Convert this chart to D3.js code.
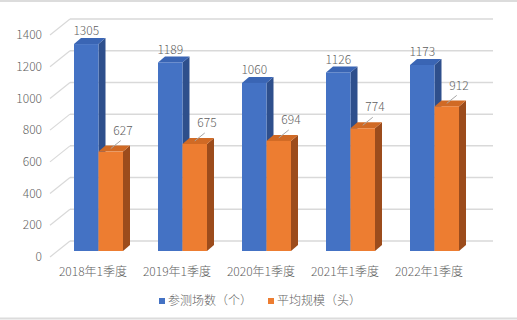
<!DOCTYPE html>
<html>
<head>
<meta charset="utf-8">
<script src="https://cdn.jsdelivr.net/npm/d3@7"></script>
<style>
  body { margin: 0; background: #fff; }
  text { font-family: "Noto Sans CJK SC", "Noto Sans", sans-serif; fill: #5f5f5f; font-weight: 300; }
</style>
</head>
<body>
<div id="chart"></div>
<script>
const categories = ["2018年1季度", "2019年1季度", "2020年1季度", "2021年1季度", "2022年1季度"];
const seriesNames = ["参测场数（个）", "平均规模（头）"];
const sites = [1305, 1189, 1060, 1126, 1173];
const scale = [627, 675, 694, 774, 912];
const yTicks = [0, 200, 400, 600, 800, 1000, 1200, 1400];

const width = 517;
const height = 320;

// 3d offsets: back wall relative to front plane, bars sit inside
const wall = { dx: 20, dy: -16 };
const barPos = { dx: 6.5, dy: -6 };
const depth = { dx: 7, dy: -6 };

const colors = [
  { front: "#4472C4", top: "#3A65B4", side: "#2E4F8C" },
  { front: "#ED7D31", top: "#D06A25", side: "#9C4C1C" }
];

const svg = d3.select("#chart")
  .append("svg")
  .attr("width", width)
  .attr("height", height);

// frame lines top and bottom
svg.append("line").attr("x1", 0).attr("x2", width).attr("y1", 1).attr("y2", 1)
  .attr("stroke", "#dcdcdc").attr("stroke-width", 2);
svg.append("line").attr("x1", 0).attr("x2", width).attr("y1", 318.5).attr("y2", 318.5)
  .attr("stroke", "#dcdcdc").attr("stroke-width", 2);

const x0 = d3.scaleBand()
  .domain(categories)
  .range([50, 470]);

const x1 = d3.scaleBand()
  .domain(seriesNames)
  .range([x0.bandwidth() / 2 - 24.5, x0.bandwidth() / 2 + 24.5]);

const y = d3.scaleLinear()
  .domain([0, 1400])
  .range([257, 35]);

// grid: back wall lines and side diagonals
const grid = svg.append("g");
yTicks.forEach(t => {
  grid.append("line")
    .attr("x1", 50).attr("y1", y(t))
    .attr("x2", 50 + wall.dx).attr("y2", y(t) + wall.dy)
    .attr("stroke", "#d9d9d9").attr("stroke-width", 1.2);
  grid.append("line")
    .attr("x1", 50 + wall.dx).attr("y1", y(t) + wall.dy)
    .attr("x2", 493).attr("y2", y(t) + wall.dy)
    .attr("stroke", "#d9d9d9").attr("stroke-width", 1.5);
});

// y axis labels
svg.append("g")
  .selectAll("text")
  .data(yTicks)
  .join("text")
  .attr("x", 42)
  .attr("y", d => y(d))
  .attr("dy", "0.35em")
  .attr("text-anchor", "end")
  .attr("font-size", 12)
  .text(d => d);

// category labels
svg.append("g")
  .selectAll("text")
  .data(categories)
  .join("text")
  .attr("x", d => x0(d) + x0.bandwidth() / 2 + 1)
  .attr("y", 272)
  .attr("dy", "0.35em")
  .attr("text-anchor", "middle")
  .attr("font-size", 12)
  .text(d => d);

const data = categories.map((c, i) => ({ cat: c, values: [sites[i], scale[i]] }));

function drawBar(g, xl, w, v, col) {
  const base = y(0) + barPos.dy;
  const top = y(v) + barPos.dy;
  const xr = xl + w;
  // side
  g.append("path")
    .attr("d", `M${xr},${top}L${xr + depth.dx},${top + depth.dy}L${xr + depth.dx},${base + depth.dy}L${xr},${base}Z`)
    .attr("fill", col.side);
  // top
  g.append("path")
    .attr("d", `M${xl},${top}L${xl + depth.dx},${top + depth.dy}L${xr + depth.dx},${top + depth.dy}L${xr},${top}Z`)
    .attr("fill", col.top);
  // front
  g.append("rect")
    .attr("x", xl).attr("y", top)
    .attr("width", w).attr("height", base - top)
    .attr("fill", col.front);
}

const bars = svg.append("g");
data.forEach(d => {
  const g = bars.append("g");
  d.values.forEach((v, si) => {
    const xl = x0(d.cat) + x1(seriesNames[si]) + barPos.dx;
    drawBar(g, xl, x1.bandwidth(), v, colors[si]);
  });
});

// value labels
const labels = svg.append("g");
data.forEach(d => {
  const v0 = d.values[0];
  const xb = x0(d.cat) + x1(seriesNames[0]) + barPos.dx;
  labels.append("text")
    .attr("x", xb + x1.bandwidth() / 2)
    .attr("y", y(v0) + barPos.dy - 13)
    .attr("dy", "0.35em")
    .attr("text-anchor", "middle")
    .attr("font-size", 12)
    .text(v0);

  const v1 = d.values[1];
  const xo = x0(d.cat) + x1(seriesNames[1]) + barPos.dx;
  const cx = xo + x1.bandwidth() / 2;
  const top = y(v1) + barPos.dy;
  labels.append("line")
    .attr("x1", cx).attr("y1", top - 3)
    .attr("x2", cx + 10).attr("y2", top - 11)
    .attr("stroke", "#a6a6a6").attr("stroke-width", 1);
  labels.append("text")
    .attr("x", xo + x1.bandwidth())
    .attr("y", top - 21)
    .attr("dy", "0.35em")
    .attr("text-anchor", "middle")
    .attr("font-size", 12)
    .text(v1);
});

// legend
const legendX = [159, 268];
const legend = svg.append("g");
seriesNames.forEach((s, i) => {
  legend.append("rect")
    .attr("x", legendX[i]).attr("y", 298)
    .attr("width", 6).attr("height", 6)
    .attr("fill", colors[i].front);
  legend.append("text")
    .attr("x", legendX[i] + 9)
    .attr("y", 301)
    .attr("dy", "0.35em")
    .attr("font-size", 12)
    .text(s);
});
</script>
</body>
</html>
